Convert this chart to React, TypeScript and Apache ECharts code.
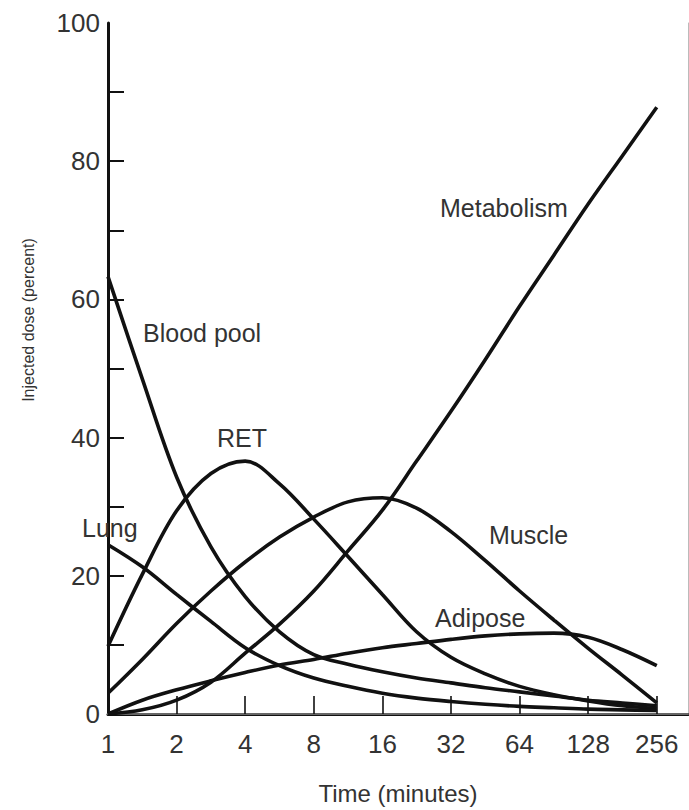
import React, { useEffect, useRef } from "react";
import * as echarts from "echarts";

// ---- Data (time in minutes, injected dose in percent) ----
const xTickLabels = [1, 2, 4, 8, 16, 32, 64, 128, 256];
const xTickMarks = [2, 4, 8, 16, 32, 64, 128, 256];
const yTickLabels = [0, 20, 40, 60, 80, 100];
const yTickMarks = [10, 20, 30, 40, 50, 60, 70, 80, 90];

// sampling times (half-doublings)
const timePoints = [1, 1.414, 2, 2.83, 4, 5.66, 8, 11.3, 16, 22.6, 32, 45.3, 64, 90.5, 128, 181, 256];

const bloodPoolDose = [63.3, 48.5, 34.3, 24.2, 17.0, 11.9, 8.6, 7.2, 6.1, 5.2, 4.5, 3.8, 3.2, 2.6, 2.0, 1.6, 1.2];
const retDose = [9.8, 20.2, 29.4, 34.8, 36.6, 33.3, 28.2, 22.8, 17.3, 11.9, 8.2, 5.8, 4.0, 2.8, 1.9, 1.2, 0.8];
const lungDose = [24.5, 21.3, 17.3, 13.4, 9.6, 7.0, 5.2, 4.0, 3.0, 2.3, 1.8, 1.4, 1.1, 0.9, 0.7, 0.6, 0.5];
const muscleDose = [3.0, 7.9, 13.1, 17.8, 22.0, 25.6, 28.5, 30.7, 31.3, 29.8, 26.4, 22.2, 17.8, 13.6, 9.5, 5.6, 1.6];
const adiposeDose = [0, 2.0, 3.5, 4.8, 6.0, 7.1, 7.9, 8.8, 9.6, 10.2, 10.8, 11.3, 11.6, 11.7, 11.1, 9.3, 7.0];
const metabolismDose = [0, 0.6, 2.0, 4.6, 8.8, 13.0, 17.8, 23.6, 29.5, 36.6, 43.8, 51.3, 59.0, 66.4, 73.8, 80.8, 87.8];

const seriesDefs = [
  { name: "Blood pool", dose: bloodPoolDose },
  { name: "RET", dose: retDose },
  { name: "Lung", dose: lungDose },
  { name: "Muscle", dose: muscleDose },
  { name: "Adipose", dose: adiposeDose },
  { name: "Metabolism", dose: metabolismDose },
];

const curveLabels = [
  { text: "Metabolism", x: 440, y: 208 },
  { text: "Blood pool", x: 143, y: 333 },
  { text: "RET", x: 217, y: 438 },
  { text: "Lung", x: 82, y: 528 },
  { text: "Muscle", x: 489, y: 535 },
  { text: "Adipose", x: 435, y: 618 },
];

const FONT = "Liberation Sans";
const TEXT_COLOR = "#333";

export default function App() {
  const ref = useRef<HTMLDivElement>(null);

  useEffect(() => {
    if (!ref.current) return;
    const chart = echarts.init(ref.current, undefined, { renderer: "svg" });

    const option: any = {
      animation: false,
      backgroundColor: "#fff",
      grid: { left: 108, right: 1, top: 23, bottom: 92, containLabel: false },
      xAxis: [
        {
          type: "log",
          logBase: 2,
          min: 1,
          max: 351,
          name: "Time (minutes)",
          nameLocation: "middle",
          nameGap: 67,
          nameTextStyle: { fontFamily: FONT, fontSize: 24, color: TEXT_COLOR },
          axisLine: { show: true, lineStyle: { color: "#111", width: 3 } },
          axisTick: {
            show: true,
            inside: true,
            length: 18,
            customValues: xTickMarks,
            lineStyle: { color: "#111", width: 1.6 },
          },
          axisLabel: {
            show: true,
            customValues: xTickLabels,
            margin: 17,
            fontFamily: FONT,
            fontSize: 26,
            color: TEXT_COLOR,
            formatter: (v: number) => String(Math.round(v)),
          },
          splitLine: { show: false },
          minorTick: { show: false },
        },
        {
          type: "log",
          logBase: 2,
          min: 1,
          max: 351,
          position: "top",
          axisLine: { show: true, lineStyle: { color: "#666", width: 2 } },
          axisTick: { show: false },
          axisLabel: { show: false },
          splitLine: { show: false },
        },
      ],
      yAxis: [
        {
          type: "value",
          min: 0,
          max: 100,
          axisLine: { show: true, lineStyle: { color: "#111", width: 3 } },
          axisTick: {
            show: true,
            inside: true,
            length: 16,
            customValues: yTickMarks,
            lineStyle: { color: "#111", width: 2 },
          },
          axisLabel: {
            show: true,
            customValues: yTickLabels,
            margin: 8,
            fontFamily: FONT,
            fontSize: 26,
            color: TEXT_COLOR,
          },
          splitLine: { show: false },
        },
        {
          type: "value",
          min: 0,
          max: 100,
          position: "right",
          axisLine: { show: true, lineStyle: { color: "#bbb", width: 1 } },
          axisTick: { show: false },
          axisLabel: { show: false },
          splitLine: { show: false },
        },
      ],
      series: seriesDefs.map((s) => ({
        name: s.name,
        type: "line",
        xAxisIndex: 0,
        yAxisIndex: 0,
        data: timePoints.map((t, i) => [t, s.dose[i]]),
        showSymbol: false,
        symbol: "none",
        smooth: 0.35,
        lineStyle: { color: "#111", width: 3.6 },
        z: 3,
      })),
      graphic: [
        ...curveLabels.map((l) => ({
          type: "text",
          left: l.x,
          top: l.y - 13,
          style: {
            text: l.text,
            fontFamily: FONT,
            fontSize: 25,
            fill: TEXT_COLOR,
          },
          z: 10,
        })),
        {
          type: "text",
          x: 28,
          y: 320,
          rotation: Math.PI / 2,
          style: {
            text: "Injected dose (percent)",
            fontFamily: FONT,
            fontSize: 16,
            fill: TEXT_COLOR,
            align: "center",
            verticalAlign: "middle",
          },
          z: 10,
        },
      ],
    };

    chart.setOption(option);
    return () => chart.dispose();
  }, []);

  return (
    <div
      ref={ref}
      style={{ position: "absolute", left: 0, top: 0, width: 689, height: 810 }}
    />
  );
}
